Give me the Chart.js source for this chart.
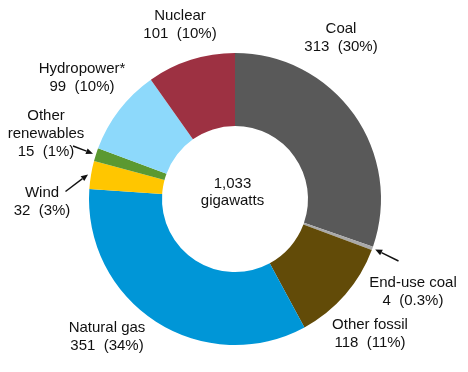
<!DOCTYPE html>
<html>
<head>
<meta charset="utf-8">
<script src="https://cdn.jsdelivr.net/npm/chart.js@4"></script>
<style>
  html, body { margin: 0; padding: 0; background: #ffffff; }
  #wrap { width: 468px; height: 372px; }
</style>
</head>
<body>
<div id="wrap"><canvas id="c" width="468" height="372"></canvas></div>
<script>
// ---- data ----
const categories = ['Coal', 'End-use coal', 'Other fossil', 'Natural gas', 'Wind', 'Other renewables', 'Hydropower*', 'Nuclear'];
const values = [313, 4, 118, 351, 32, 15, 99, 101];
const percentLabels = ['30%', '0.3%', '11%', '34%', '3%', '1%', '10%', '10%'];
const nameLines = [['Coal'], ['End-use coal'], ['Other fossil'], ['Natural gas'], ['Wind'], ['Other', 'renewables'], ['Hydropower*'], ['Nuclear']];
const totalLabel = ['1,033', 'gigawatts'];

// ---- styles / layout ----
const colors = ['#595959', '#a9a9a9', '#624b08', '#0096d7', '#ffc600', '#5b9931', '#8dd9fb', '#9d3142'];
// first-line baseline positions for each label (x center, y baseline)
const labelPos = [[341, 33.3], [413, 287.3], [370, 329], [107, 332.3], [42, 197.3], [46, 119.5], [82, 72.7], [180, 20]];
// arrow tails for slices that use pointers (index -> [x, y])
const arrowTails = { 1: [398.5, 261], 4: [65.5, 191.5], 5: [73, 146] };

const FONT = '15px "Liberation Sans", Arial, sans-serif';
const LINE_H = 18;

const labelPlugin = {
  id: 'labels',
  afterDraw(chart) {
    const ctx = chart.ctx;
    const meta = chart.getDatasetMeta(0);
    ctx.save();
    ctx.font = FONT;
    ctx.fillStyle = '#111111';
    ctx.textAlign = 'center';
    ctx.textBaseline = 'alphabetic';
    meta.data.forEach((arc, i) => {
      const lines = nameLines[i].concat([values[i] + '  (' + percentLabels[i] + ')']);
      const [x, y] = labelPos[i];
      lines.forEach((t, k) => ctx.fillText(t, x, y + k * LINE_H));
    });
    // center text
    const c = meta.data[0];
    ctx.fillText(totalLabel[0], c.x - 2.5, c.y - 11.3);
    ctx.fillText(totalLabel[1], c.x - 2.5, c.y + 6);

    // arrows
    ctx.strokeStyle = '#111111';
    ctx.lineWidth = 1.4;
    Object.keys(arrowTails).forEach(key => {
      const i = +key;
      const arc = meta.data[i];
      const p = arc.getProps(['x', 'y', 'startAngle', 'endAngle', 'outerRadius']);
      const mid = (p.startAngle + p.endAngle) / 2;
      const r = p.outerRadius + 3;
      const tx = p.x + Math.cos(mid) * r;
      const ty = p.y + Math.sin(mid) * r;
      const [sx, sy] = arrowTails[i];
      const ang = Math.atan2(ty - sy, tx - sx);
      const hl = 7, hw = 3;
      const bx = tx - Math.cos(ang) * hl, by = ty - Math.sin(ang) * hl;
      ctx.beginPath();
      ctx.moveTo(sx, sy);
      ctx.lineTo(bx, by);
      ctx.stroke();
      ctx.beginPath();
      ctx.moveTo(tx, ty);
      ctx.lineTo(bx + Math.sin(ang) * hw, by - Math.cos(ang) * hw);
      ctx.lineTo(bx - Math.sin(ang) * hw, by + Math.cos(ang) * hw);
      ctx.closePath();
      ctx.fillStyle = '#111111';
      ctx.fill();
    });
    ctx.restore();
  }
};

new Chart(document.getElementById('c'), {
  type: 'doughnut',
  data: {
    labels: categories,
    datasets: [{
      data: values,
      backgroundColor: colors,
      borderWidth: 0,
      hoverOffset: 0
    }]
  },
  options: {
    responsive: false,
    devicePixelRatio: 1,
    animation: false,
    cutout: '50%',
    layout: { padding: { top: 53, bottom: 27, left: 89, right: 87 } },
    plugins: {
      legend: { display: false },
      tooltip: { enabled: false }
    }
  },
  plugins: [labelPlugin]
});
</script>
</body>
</html>
